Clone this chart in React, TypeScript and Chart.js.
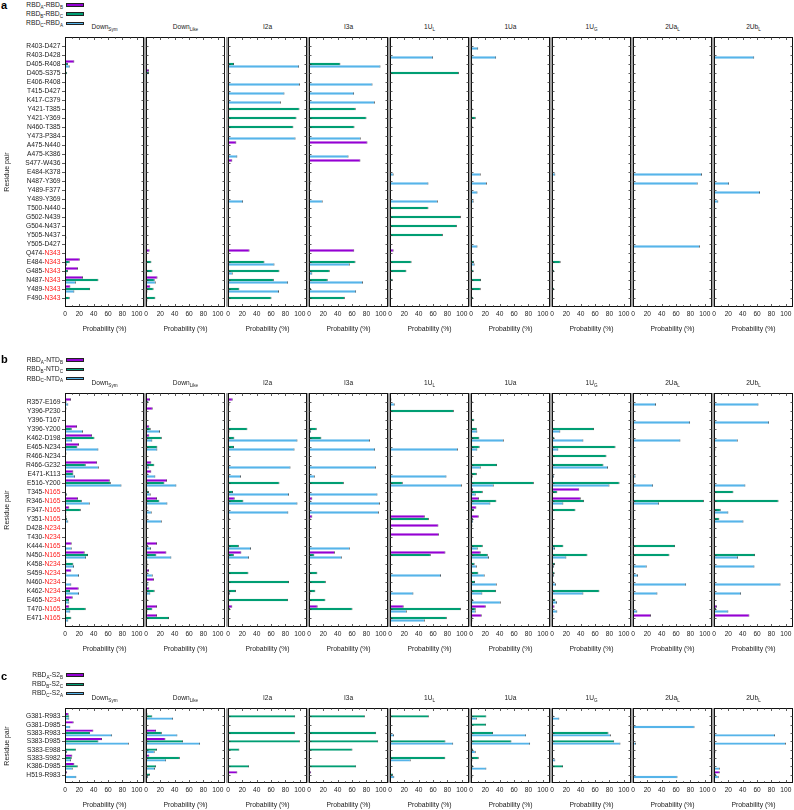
import React, { useEffect, useRef } from 'react';
import { Chart, registerables } from 'chart.js';

Chart.register(...registerables);

const FONT = '"Liberation Sans", Arial, Helvetica, sans-serif';
const PURPLE = '#9400d3';
const GREEN = '#009e73';
const BLUE = '#56b4e9';
const SERIES_COLORS = [PURPLE, GREEN, BLUE];

const COL_TITLES = ['Down', 'Down', 'I2a', 'I3a', '1U', '1Ua', '1U', '2Ua', '2Ub'];
const COL_SUBS = ['Sym', 'Like', '', '', 'L', '', 'G', 'L', 'L'];
const X_TICKS = [0, 20, 40, 60, 80, 100];
const X_MAX = 110;
const X_MINOR_STEP = 10;
const X_TITLE = 'Probability (%)';
const Y_TITLE = 'Residue pair';

// ---------------- panel a : RBD-RBD ----------------
const A_ROWS = ['R403-D427', 'R403-D428', 'D405-R408', 'D405-S375', 'E406-R408', 'T415-D427', 'K417-C379', 'Y421-T385', 'Y421-Y369', 'N460-T385', 'Y473-P384', 'A475-N440', 'A475-K386', 'S477-W436', 'E484-K378', 'N487-Y369', 'Y489-F377', 'Y489-Y369', 'T500-N440', 'G502-N439', 'G504-N437', 'Y505-N437', 'Y505-D427', 'Q474-N343', 'E484-N343', 'G485-N343', 'N487-N343', 'Y489-N343', 'F490-N343'];
const A_GLYCAN_START = 23;
const A_LEGEND = [['RBD', 'A', '-RBD', 'B'], ['RBD', 'B', '-RBD', 'C'], ['RBD', 'C', '-RBD', 'A']];
// one row per column (Down_Sym ... 2Ub_L), one value per residue pair
const A_PURPLE = [
  [0, 0, 13, 0, 0, 0, 0, 0, 0, 0, 0, 0, 0, 0, 0, 0, 0, 0, 0, 0, 0, 0, 0, 0, 20.5, 18, 25, 7.5, 0],
  [0, 0, 0, 4, 0, 0, 0, 0, 0, 1, 0, 0, 0, 0, 0, 0, 0, 0, 0, 0, 0, 0, 0, 5, 1, 0, 16, 6, 0],
  [0, 0, 0, 0, 0, 0, 0, 0, 0, 0, 0, 11.6, 0, 6, 0, 0, 0, 0, 0, 0, 0, 0, 0, 30, 0, 0, 0, 0, 0],
  [0, 0, 0, 0, 0, 0, 0, 0, 0, 0, 0, 81.4, 0, 71.6, 0, 0, 0, 0, 0, 0, 0, 0, 0, 63, 0, 0, 0, 0, 0],
  [0, 0, 0, 0, 0, 0, 0, 0, 0, 0, 0, 0, 0, 0, 0, 0, 0, 0, 0, 0, 0, 0, 0, 5, 0, 0, 0, 0, 0],
  [0, 0, 0, 0, 0, 0, 0, 0, 0, 0, 0, 0, 0, 0, 0, 0, 0, 0, 0, 0, 0, 0, 0, 1, 0, 0, 0, 0, 0],
  [0, 0, 0, 0, 0, 0, 0, 0, 0, 0, 0, 0, 0, 0, 0, 0, 0, 0, 0, 0, 0, 0, 0, 0, 0, 0, 0, 0, 0],
  [0, 0, 0, 0, 0, 0, 0, 0, 0, 0, 0, 0, 0, 0, 0, 0, 0, 0, 0, 0, 0, 0, 0, 0, 0, 0, 0, 0, 0],
  [0, 0, 0, 0, 0, 0, 0, 0, 0, 0, 0, 0, 0, 0, 0, 0, 0, 0, 0, 0, 0, 0, 0, 0, 0, 0, 0, 0, 0],
];
const A_GREEN = [
  [0, 0, 4, 3, 0, 0, 0, 0, 0, 0, 0, 0, 0, 0, 0, 0, 0, 0, 0, 0, 0, 0, 0, 0, 6.5, 4, 46.5, 35, 6.5],
  [0, 0, 1, 4, 0, 0, 0, 0, 1, 0, 0, 0, 0, 0, 0, 0, 0, 0, 0, 0, 0, 0, 0, 0, 7.5, 9, 12, 10.5, 13],
  [0, 0, 8.4, 0, 0, 0, 0, 99.5, 95.3, 91, 0, 0, 0, 0, 0, 0, 0, 0, 0, 0, 0, 0, 0, 0, 50.7, 71.6, 63.7, 15.8, 60.5],
  [0, 0, 43.7, 0, 0, 0, 0, 65, 80, 63.3, 0, 0, 0, 0, 0, 0, 0, 0, 0, 0, 0, 0, 0, 0, 64.7, 28.8, 26, 3, 49.8],
  [0, 0, 0, 95.8, 0, 0, 0, 0, 0, 0, 0, 0, 0, 0, 0, 0, 0, 0, 53.5, 98.6, 93, 73.5, 0, 0, 30, 22.8, 3.7, 1, 0],
  [0, 0, 2, 2, 0, 0, 0, 2, 6.5, 2, 0, 0, 0, 0, 0, 0, 0, 0, 0, 0, 0, 0, 0, 0, 4, 3.5, 14, 13.5, 3],
  [0, 0, 0, 0, 0, 0, 0, 2, 0, 0, 0, 0, 0, 0, 0, 0, 0, 0, 0, 0, 0, 0, 0, 0, 12, 3, 0, 3, 0],
  [0, 0, 0, 0, 0, 0, 0, 0, 0, 0, 0, 0, 0, 0, 0, 0, 0, 0, 0, 0, 0, 0, 0, 0, 0, 0, 0, 0, 0],
  [0, 0, 0, 0, 0, 0, 0, 0, 0, 0, 0, 0, 0, 0, 0, 0, 0, 0, 0, 0, 0, 0, 0, 0, 0, 0, 0, 0, 0],
];
const A_BLUE = [
  [0, 0, 6.5, 0, 0, 0, 0, 0, 0, 0, 0, 0, 0, 0, 0, 0, 0, 0, 0, 0, 0, 2, 0, 0, 3, 2, 15, 13, 0],
  [0, 0, 0, 0, 0, 0, 0, 0, 0, 1.5, 0, 0, 0, 0, 0, 0, 0, 0, 0, 0, 0, 0, 0, 0, 1, 0, 13.5, 2, 2],
  [0, 0, 99, 0, 100, 78.6, 73.5, 0, 0, 0, 94, 0, 13, 0, 0, 0, 0, 21, 0, 0, 0, 0, 0, 0, 64.7, 6.5, 83.7, 71, 0],
  [0, 0, 99.5, 0, 88.4, 62.8, 91.6, 0, 0, 0, 72, 0, 55, 0, 0, 2, 0, 19, 0, 0, 0, 0, 0, 0, 56.7, 4.6, 75, 65.6, 0],
  [0, 60, 0, 0, 0, 0, 0, 0, 0, 0, 0, 0, 0, 0, 5, 53.5, 0, 66.5, 0, 0, 0, 0, 0, 0, 0, 0, 0, 0, 0],
  [10, 35, 0, 0, 0, 0, 0, 0, 0, 0, 0, 0, 0, 0, 13.5, 22, 9, 3.7, 0, 0, 0, 0, 9, 0, 5, 0, 0, 0, 0],
  [0, 0, 0, 0, 0, 0, 0, 0, 0, 0, 0, 0, 0, 0, 4.6, 0, 0, 0, 0, 0, 0, 0, 0, 0, 0, 0, 0, 0, 0],
  [0, 0, 0, 0, 0, 0, 0, 0, 0, 0, 0, 0, 0, 0, 96, 90, 0, 0, 0, 0, 0, 0, 93, 0, 0, 0, 0, 0, 0],
  [0, 56, 0, 0, 0, 0, 0, 0, 0, 0, 0, 0, 0, 0, 0, 21, 64, 6, 0, 0, 0, 0, 0, 0, 0, 0, 0, 0, 0],
];

// ---------------- panel b : RBD-NTD ----------------
const B_ROWS = ['R357-E169', 'Y396-P230', 'Y396-T167', 'Y396-Y200', 'K462-D198', 'E465-N234', 'R466-N234', 'R466-G232', 'E471-K113', 'E516-Y200', 'T345-N165', 'R346-N165', 'F347-N165', 'Y351-N165', 'D428-N234', 'T430-N234', 'K444-N165', 'N450-N165', 'K458-N234', 'S459-N234', 'N460-N234', 'K462-N234', 'E465-N234', 'T470-N165', 'E471-N165'];
const B_GLYCAN_START = 10;
const B_LEGEND = [['RBD', 'A', '-NTD', 'B'], ['RBD', 'B', '-NTD', 'C'], ['RBD', 'C', '-NTD', 'A']];
const B_PURPLE = [
  [8.4, 2, 0, 16.7, 37.7, 19.5, 2, 44.7, 11.6, 62.3, 1.5, 18, 6, 2, 0, 0, 9.3, 27.4, 2, 8.8, 2, 19, 10.7, 6, 2],
  [5.6, 9.3, 0, 4.6, 4.6, 0, 0, 7.4, 7.4, 29.3, 2, 15.3, 2, 2, 0, 0, 15.3, 28.4, 2, 4.2, 11, 4.6, 0, 15.3, 15.3],
  [6.5, 0, 0, 0, 0, 0, 0, 0, 0, 0, 0, 9.3, 0, 0, 0, 0, 0, 18.6, 0, 0, 0, 0, 0, 6, 0],
  [0, 0, 0, 0, 0, 0, 0, 0, 0, 0, 1, 4.6, 0, 4.6, 0, 0, 0, 36, 0, 0, 0, 0, 0, 12, 0],
  [2, 0, 0, 0, 0, 0, 0, 0, 0, 0, 0, 1.5, 0, 48.4, 67.4, 68, 0, 77.2, 0, 0, 0, 0, 0, 19, 0],
  [0, 0, 0, 0, 0, 0, 0, 0, 0, 0, 3, 11, 7.5, 10.7, 2, 0, 0, 13.5, 0, 0, 0, 0, 0, 20.5, 14.9],
  [0, 0, 0, 0, 0, 0, 0, 0, 0, 0, 38, 40, 0, 0, 0, 0, 0, 0, 0, 0, 0, 0, 0, 3.5, 2],
  [0, 0, 0, 0, 0, 0, 0, 0, 0, 0, 0, 0, 0, 0, 0, 0, 0, 0, 0, 0, 0, 0, 0, 0, 25],
  [0, 0, 0, 0, 0, 0, 0, 0, 0, 0, 0, 0, 0, 0, 0, 0, 0, 0, 0, 0, 0, 0, 0, 4, 49.3],
];
const B_GREEN = [
  [2, 0, 0, 9.3, 41, 17.2, 0, 28.8, 11.6, 63.7, 0, 23.3, 21.9, 3, 0, 0, 1, 32, 11.6, 2, 1, 7, 5.6, 28.8, 8.8],
  [3.3, 0, 0, 6.5, 21.9, 15.8, 1, 11.6, 2, 25.6, 4, 18.6, 1, 1, 0, 0, 3, 14.4, 2, 2, 1, 12, 2, 8.8, 32],
  [0, 0, 0, 27, 8.8, 8.4, 0, 0, 0, 71.6, 7, 21.4, 0, 2, 0, 0, 15, 8, 0, 28.4, 85, 11, 83.7, 3, 0],
  [0, 0, 0, 10.7, 17.2, 0, 0, 0, 0, 48.4, 0, 2, 0, 2, 0, 0, 0, 7.4, 1, 11.6, 23.3, 8.8, 22.8, 60.5, 0],
  [0, 88.8, 0, 0, 0, 0, 0, 0, 0, 17.7, 0, 0, 0, 54, 0, 0, 0, 56.7, 0, 0, 0, 0, 0, 98.6, 79],
  [2, 0, 4.6, 8, 11.6, 12, 0, 36.3, 8, 87.4, 16.3, 35.3, 4, 3, 0, 0, 16.3, 23.3, 5, 10.2, 5.6, 35, 3, 6.5, 2],
  [2, 0, 0, 58.6, 3.3, 88.4, 75.8, 71.6, 0, 94, 7.4, 44.7, 32.6, 1, 0, 0, 15.8, 49.3, 4, 3.5, 2, 66, 4.6, 0, 0],
  [0, 0, 0, 0, 0, 0, 0, 0, 0, 0, 0, 98.6, 0, 0, 0, 0, 58.6, 50.7, 0, 0, 0, 0, 0, 0, 0],
  [0, 0, 0, 0, 0, 0, 0, 0, 0, 0, 27, 89.8, 9.3, 7.4, 0, 0, 0, 57.2, 0, 0, 0, 0, 0, 3, 0],
];
const B_BLUE = [
  [4.6, 0, 0, 25, 10, 46.5, 0, 47, 14, 78.6, 3, 34.4, 2, 4.6, 0, 0, 9.3, 29.3, 12.5, 19.5, 8.8, 19.5, 6, 7.4, 4.6],
  [2, 0, 0, 19.5, 8.8, 15.8, 0, 3.7, 13, 42.3, 6.5, 29.8, 7.9, 21.9, 0, 0, 7, 35.3, 2, 9.3, 3.3, 6, 0, 2, 1],
  [2, 0, 0, 2, 96.7, 92.6, 0, 87, 18, 0, 85, 96.7, 84, 0, 0, 0, 32, 29.3, 0, 0, 0, 3, 0, 0, 0],
  [0, 0, 0, 3, 84.7, 92, 0, 93, 8, 0, 95.3, 98.6, 97.2, 0, 0, 0, 56.7, 45.6, 0, 0, 0, 2, 0, 0, 0],
  [6.5, 0, 0, 0, 0, 94.4, 0, 0, 78.6, 100, 0, 0, 0, 0, 0, 0, 0, 1, 0, 71, 0, 32.6, 0, 23.3, 48.4],
  [0, 0, 0, 8.8, 45.6, 8.8, 0, 13.5, 2.3, 31.6, 6.5, 27, 1.5, 3, 0, 0, 9.3, 25, 8, 19, 35.8, 15.8, 41.4, 6.5, 2],
  [0, 0, 0, 11.6, 43.7, 8.8, 0, 78, 3, 80, 1, 15.8, 0, 0, 0, 0, 4, 20, 3, 3, 5.5, 43.7, 7, 7.4, 0],
  [32, 0, 79.5, 0, 66, 0, 0, 0, 3.5, 28, 0, 36.3, 0, 0, 0, 0, 0, 0, 19, 7, 74, 34, 0, 6, 0],
  [61.9, 0, 76.7, 0, 33, 2, 0, 0, 0, 43.7, 0, 0, 20, 41, 0, 0, 0, 33.5, 56.3, 0, 92.6, 37.7, 0, 20, 0],
];

// ---------------- panel c : RBD-S2 ----------------
const C_ROWS = ['G381-R983', 'G381-D985', 'S383-R983', 'S383-D985', 'S383-E988', 'S383-S982', 'K386-D985', 'H519-R983'];
const C_GLYCAN_START = 99;
const C_LEGEND = [['RBD', 'A', '-S2', 'B'], ['RBD', 'B', '-S2', 'C'], ['RBD', 'C', '-S2', 'A']];
const C_PURPLE = [
  [5, 12, 39.5, 51.6, 0, 10.2, 13, 3],
  [2, 0, 14, 27, 0, 4.6, 0, 1],
  [0, 0, 0, 0, 0, 0, 0, 13],
  [0, 0, 0, 0, 0, 0, 0, 3],
  [0, 0, 0, 0, 0, 0, 0, 0],
  [0, 0, 0, 0, 0, 0, 0, 0],
  [0, 0, 0, 0, 0, 0, 0, 0],
  [0, 0, 0, 0, 0, 0, 0, 0],
  [0, 0, 0, 0, 0, 0, 0, 8],
];
const C_GREEN = [
  [6, 0, 35, 46.5, 15, 9.3, 17.7, 1],
  [8.8, 0, 21.9, 51.6, 15.3, 47, 14, 5.6],
  [93.5, 0, 93, 100, 15.8, 0, 29.3, 0],
  [77.7, 0, 93.5, 96.3, 60.5, 0, 65.6, 0],
  [54, 0, 0, 77.2, 0, 77, 0, 4],
  [21.4, 21, 30.7, 56.3, 3, 10.7, 3, 0],
  [2, 0, 78.6, 86.5, 0, 0, 15.3, 0],
  [0, 0, 0, 0, 0, 0, 0, 0],
  [0, 0, 0, 0, 0, 0, 0, 3],
];
const C_BLUE = [
  [6, 7.4, 65.6, 88.8, 3, 8.4, 10.7, 15.8],
  [37.7, 0, 43.7, 75.3, 12, 28, 12.5, 3],
  [1, 0, 0, 0, 0, 0, 0, 0],
  [0, 0, 0, 0, 0, 0, 0, 0],
  [0, 0, 5.6, 88, 0, 28.8, 0, 6],
  [8, 0, 76.7, 82.3, 6.5, 2, 21.4, 2],
  [10.2, 0, 81.9, 95.3, 0, 4.6, 0, 0],
  [0, 85.6, 0, 4, 0, 0, 0, 61.9],
  [0, 0, 85, 100, 2, 1, 8, 6.5],
];

// ---------------- layout (positions only) ----------------
const COL_LEFT = [65, 146, 228, 309, 390, 471, 552, 633, 714];
const PLOT_W = 79;
const AX_H = 26;
const PAD_T = 4;

type Panel = {
  letter: string;
  rows: string[];
  glycanStart: number;
  series: number[][][];
  legend: string[][];
  top: number;
  bottom: number;
  letterY: number;
  legendY: number[];
  titleY: number;
};

const PANELS: Panel[] = [
  { letter: 'a', rows: A_ROWS, glycanStart: A_GLYCAN_START, series: [A_PURPLE, A_GREEN, A_BLUE], legend: A_LEGEND, top: 37, bottom: 307, letterY: 5, legendY: [5, 14.2, 23.4], titleY: 27 },
  { letter: 'b', rows: B_ROWS, glycanStart: B_GLYCAN_START, series: [B_PURPLE, B_GREEN, B_BLUE], legend: B_LEGEND, top: 393, bottom: 627, letterY: 358.5, legendY: [360, 369.3, 378.5], titleY: 383.3 },
  { letter: 'c', rows: C_ROWS, glycanStart: C_GLYCAN_START, series: [C_PURPLE, C_GREEN, C_BLUE], legend: C_LEGEND, top: 708, bottom: 783, letterY: 676, legendY: [675, 684.3, 693.4], titleY: 698.3 },
];

function makeFramePlugin(panel: Panel, col: number) {
  return {
    id: 'frame' + col,
    afterDatasetsDraw(chart: any) {
      const { ctx, chartArea } = chart;
      const { left, right, top, bottom } = chartArea;
      const xs = chart.scales.x;
      const ys = chart.scales.y;
      ctx.save();
      if (col > 0) {
        ctx.fillStyle = '#a3a3a3';
        ctx.fillRect(left - 2, top, 2, bottom - top);
      }
      ctx.strokeStyle = '#111';
      ctx.lineWidth = 1;
      ctx.strokeRect(left + 0.5, top + 0.5, right - left - 1, bottom - top - 1);
      ctx.beginPath();
      for (let i = 1; i <= panel.rows.length; i++) {
        const py = Math.round(ys.getPixelForValue(i)) + 0.5;
        if (col === 0) {
          ctx.moveTo(left - 3, py);
          ctx.lineTo(left, py);
        } else {
          ctx.moveTo(left, py);
          ctx.lineTo(left + 2.5, py);
        }
        ctx.moveTo(right, py);
        ctx.lineTo(right - 2.5, py);
      }
      for (let v = X_MINOR_STEP; v < X_MAX; v += X_MINOR_STEP) {
        const px = Math.round(xs.getPixelForValue(v)) + 0.5;
        const len = X_TICKS.includes(v) ? 3 : 1.8;
        ctx.moveTo(px, top);
        ctx.lineTo(px, top + len);
        ctx.moveTo(px, bottom);
        ctx.lineTo(px, bottom - len);
      }
      ctx.lineWidth = 0.8;
      ctx.strokeStyle = '#333';
      ctx.stroke();
      ctx.restore();
    },
    afterDraw(chart: any) {
      if (col !== 0) return;
      const { ctx, chartArea } = chart;
      const ys = chart.scales.y;
      ctx.save();
      ctx.font = `6.7px ${FONT}`;
      ctx.textBaseline = 'middle';
      ctx.textAlign = 'right';
      panel.rows.forEach((r, i) => {
        const y = ys.getPixelForValue(i + 1);
        let x = chartArea.left - 4.5;
        if (i >= panel.glycanStart) {
          const dash = r.indexOf('-');
          const head = r.slice(0, dash + 1);
          const tail = r.slice(dash + 1);
          ctx.fillStyle = '#ff1a1a';
          ctx.fillText(tail, x, y);
          x -= ctx.measureText(tail).width;
          ctx.fillStyle = '#222';
          ctx.fillText(head, x, y);
        } else {
          ctx.fillStyle = '#222';
          ctx.fillText(r, x, y);
        }
      });
      ctx.restore();
    },
  };
}

function ColumnChart({ panel, col }: { panel: Panel; col: number }) {
  const ref = useRef<HTMLCanvasElement>(null);
  const padL = col === 0 ? COL_LEFT[0] : 8;
  const padR = 3;
  const plotH = panel.bottom - panel.top;
  const width = padL + PLOT_W + padR;
  const height = PAD_T + plotH + AX_H;
  const left = COL_LEFT[col] - padL;
  const top = panel.top - PAD_T;

  useEffect(() => {
    const labels = ['', ...panel.rows, ''];
    const pad = (arr: number[]) => [null, ...arr.map((v) => (v > 0 ? v : null)), null];
    const chart = new Chart(ref.current as HTMLCanvasElement, {
      type: 'bar',
      data: {
        labels,
        datasets: SERIES_COLORS.map((c, s) => ({
          label: 'S' + s,
          data: pad(panel.series[s][col]) as any,
          backgroundColor: c,
          borderColor: '#1c1c1c',
          borderWidth: { top: 0, bottom: 0, left: 0, right: 0.8 },
          borderSkipped: 'start' as const,
          barPercentage: 1,
          categoryPercentage: 0.83,
        })),
      },
      options: {
        indexAxis: 'y',
        responsive: false,
        animation: false,
        events: [],
        layout: { padding: { left: padL, right: padR, top: PAD_T, bottom: 0 } },
        plugins: { legend: { display: false }, tooltip: { enabled: false }, title: { display: false } },
        scales: {
          y: { type: 'category', display: false, offset: false },
          x: {
            type: 'linear',
            min: 0,
            max: X_MAX,
            afterBuildTicks: (s: any) => {
              s.ticks = X_TICKS.map((v) => ({ value: v }));
            },
            afterFit: (s: any) => {
              s.height = AX_H;
            },
            grid: { display: false, drawTicks: false },
            border: { display: false },
            ticks: { font: { size: 6.6, family: FONT }, color: '#222', padding: 3, maxRotation: 0, autoSkip: false },
            title: { display: true, text: X_TITLE, font: { size: 6.8, family: FONT }, color: '#222', padding: 0 },
          },
        },
      } as any,
      plugins: [makeFramePlugin(panel, col)],
    });
    return () => chart.destroy();
  }, []);

  return <canvas ref={ref} width={width} height={height} style={{ position: 'absolute', left, top, width, height }} />;
}

function Sub({ children }: { children: React.ReactNode }) {
  return <span style={{ fontSize: '4.6px', position: 'relative', top: '1.6px' }}>{children}</span>;
}

export default function App() {
  return (
    <div style={{ position: 'absolute', left: 0, top: 0, width: 794, height: 810, overflow: 'hidden', background: '#fff', fontFamily: FONT, color: '#222' }}>
      {PANELS.map((p, pi) => (
        <React.Fragment key={pi}>
          {COL_LEFT.map((_, c) => (
            <ColumnChart key={c} panel={p} col={c} />
          ))}
          <div style={{ position: 'absolute', left: 1, top: p.letterY - 6, fontSize: 11, fontWeight: 'bold', lineHeight: '12px', color: '#000' }}>{p.letter}</div>
          {p.legend.map((l, i) => (
            <React.Fragment key={'lg' + i}>
              <div style={{ position: 'absolute', left: 0, width: 63, top: p.legendY[i] - 4, height: 8, lineHeight: '8px', textAlign: 'right', fontSize: '6.7px', whiteSpace: 'nowrap' }}>
                {l[0]}
                <Sub>{l[1]}</Sub>
                {l[2]}
                <Sub>{l[3]}</Sub>
              </div>
              <div style={{ position: 'absolute', left: 65.5, top: p.legendY[i] - 1.75, width: 18, height: 3.5, boxSizing: 'border-box', background: SERIES_COLORS[i], border: '0.6px solid #222' }} />
            </React.Fragment>
          ))}
          {COL_TITLES.map((t, c) => (
            <div key={'ct' + c} style={{ position: 'absolute', left: COL_LEFT[c] + PLOT_W / 2 - 30, width: 60, top: p.titleY - 4, height: 8, lineHeight: '8px', textAlign: 'center', fontSize: '6.6px', whiteSpace: 'nowrap' }}>
              {t}
              {COL_SUBS[c] ? <Sub>{COL_SUBS[c]}</Sub> : null}
            </div>
          ))}
          <div style={{ position: 'absolute', left: 6.5 - 30, top: (p.top + p.bottom) / 2 - 4, width: 60, height: 8, lineHeight: '8px', textAlign: 'center', fontSize: '7px', transform: 'rotate(-90deg)', whiteSpace: 'nowrap' }}>{Y_TITLE}</div>
        </React.Fragment>
      ))}
    </div>
  );
}
